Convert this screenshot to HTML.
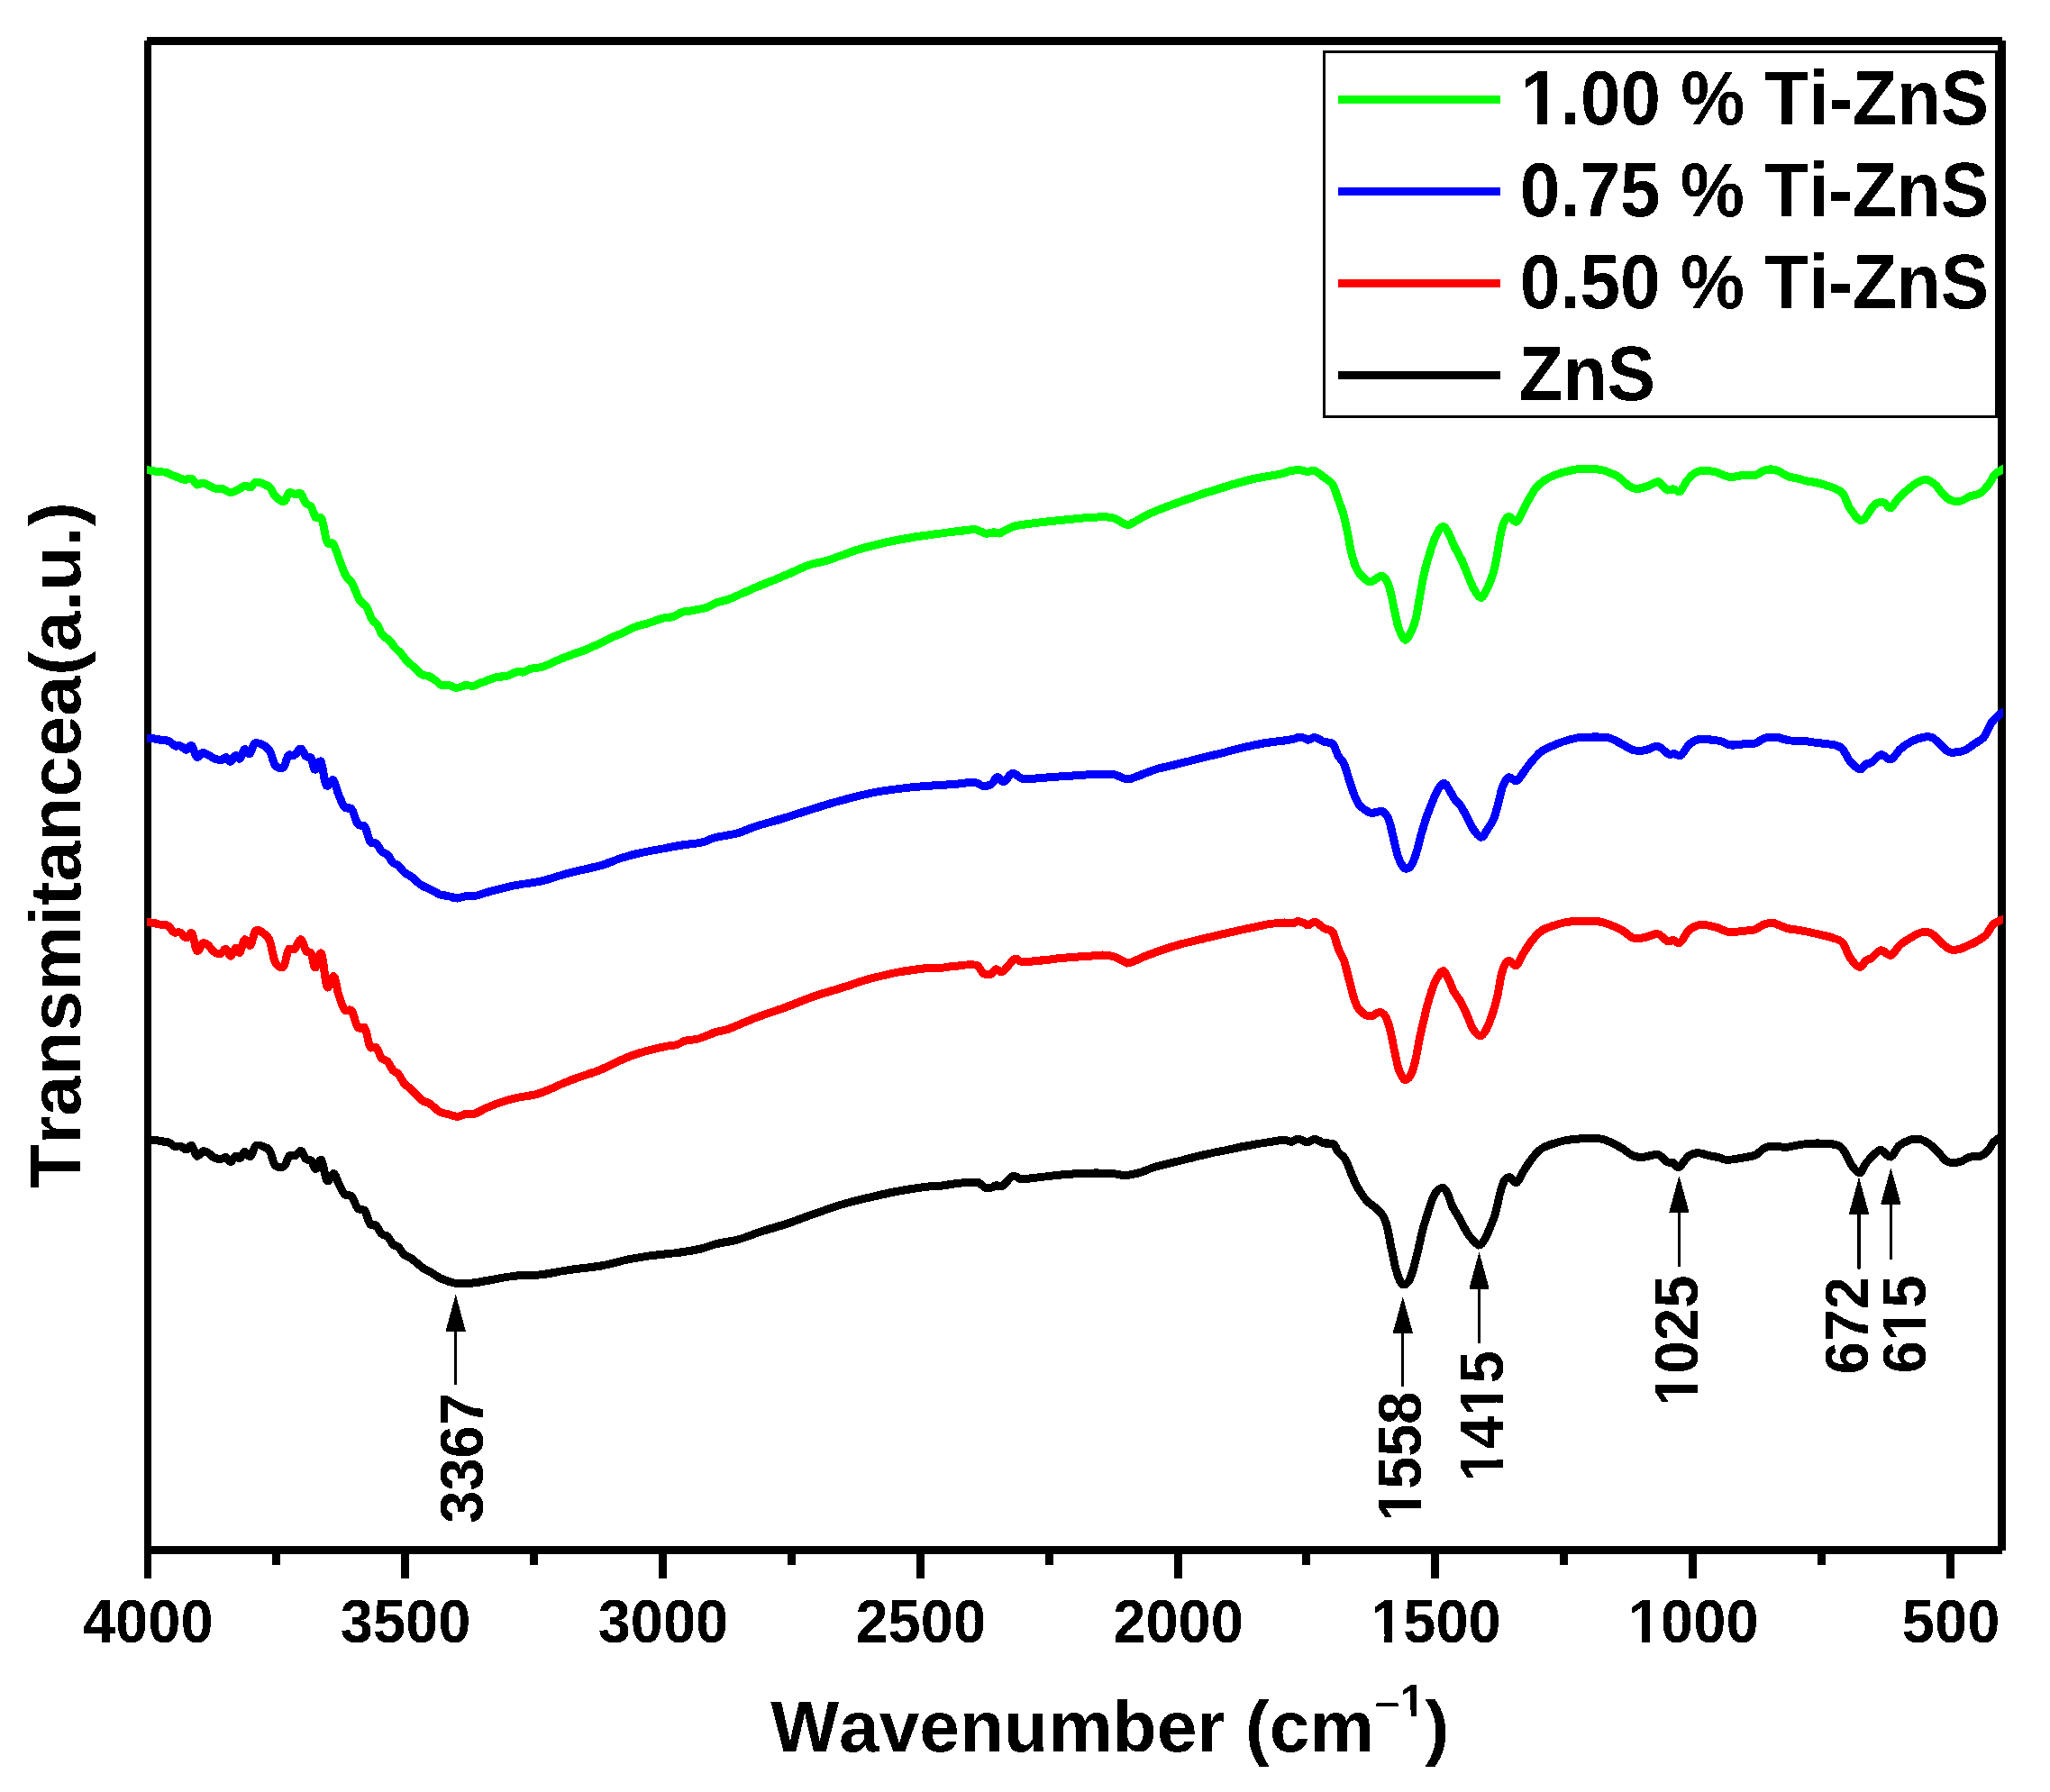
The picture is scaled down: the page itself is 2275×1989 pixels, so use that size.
<!DOCTYPE html>
<html><head><meta charset="utf-8"><title>FTIR spectra</title>
<style>
html,body{margin:0;padding:0;background:#fff;}
body{width:2275px;height:1989px;overflow:hidden;}
svg{display:block;}
text{font-family:"Liberation Sans",Arial,Helvetica,sans-serif;fill:#000;font-kerning:none;}
</style></head><body>
<svg width="2275" height="1989" viewBox="0 0 2275 1989">
<defs><filter id="hard" filterUnits="userSpaceOnUse" x="0" y="0" width="2275" height="1989" color-interpolation-filters="sRGB"><feComponentTransfer><feFuncR type="discrete" tableValues="0 1"/><feFuncG type="discrete" tableValues="0 1"/><feFuncB type="discrete" tableValues="0 1"/></feComponentTransfer></filter></defs>
<g filter="url(#hard)">
<rect width="2275" height="1989" fill="#fff"/>
<g fill="#000">
<rect x="160" y="45" width="8" height="1707"/>
<rect x="163" y="41" width="2059" height="8.8"/>
<rect x="2217" y="45" width="9" height="1675.8"/>
<rect x="160" y="1716" width="2062" height="9"/>
<rect x="445" y="1720" width="9" height="32"/>
<rect x="731" y="1720" width="9" height="32"/>
<rect x="1017" y="1720" width="9" height="32"/>
<rect x="1303" y="1720" width="9" height="32"/>
<rect x="1588" y="1720" width="9" height="32"/>
<rect x="1874" y="1720" width="9" height="32"/>
<rect x="2160" y="1720" width="9" height="32"/>
<rect x="302" y="1720" width="9" height="17"/>
<rect x="588" y="1720" width="9" height="17"/>
<rect x="874" y="1720" width="9" height="17"/>
<rect x="1160" y="1720" width="9" height="17"/>
<rect x="1445" y="1720" width="9" height="17"/>
<rect x="1731" y="1720" width="9" height="17"/>
<rect x="2017" y="1720" width="9" height="17"/>
</g>
<clipPath id="plotclip"><rect x="163" y="50" width="2059.6" height="1666"/></clipPath>
<g fill="none" stroke-width="9" stroke-linejoin="round" stroke-linecap="butt" clip-path="url(#plotclip)">
<path stroke="#000000" d="M156.0 1264.4C157.2 1264.5 160.3 1264.6 162.9 1264.7C165.5 1264.9 168.9 1265.2 171.7 1265.5C174.5 1265.8 176.9 1266.3 179.5 1266.7C182.1 1267.1 184.9 1267.1 187.3 1268.0C189.8 1269.0 192.0 1271.9 194.1 1272.5C196.3 1273.2 197.9 1271.4 200.0 1272.0C202.1 1272.5 204.7 1276.0 206.8 1275.9C208.9 1275.8 210.7 1270.2 212.7 1271.4C214.6 1272.6 216.4 1282.0 218.5 1283.1C220.7 1284.1 223.3 1278.4 225.4 1277.8C227.5 1277.3 229.1 1278.6 231.2 1279.8C233.3 1281.0 235.6 1284.0 238.0 1285.0C240.5 1286.1 243.7 1286.3 245.9 1286.2C248.0 1286.1 249.0 1284.1 250.7 1284.6C252.4 1285.2 254.2 1289.8 256.0 1289.5C257.8 1289.3 259.7 1283.7 261.5 1283.1C263.2 1282.4 264.7 1286.4 266.3 1285.6C268.0 1284.8 269.7 1278.7 271.6 1278.4C273.6 1278.1 276.0 1284.8 278.0 1283.7C280.1 1282.5 281.3 1273.1 283.9 1271.4C286.5 1269.6 291.1 1272.2 293.7 1273.3C296.3 1274.4 297.6 1274.5 299.5 1277.8C301.5 1281.2 302.8 1290.7 305.4 1293.4C308.0 1296.2 312.5 1296.1 315.1 1294.4C317.7 1292.7 318.9 1285.0 321.0 1283.1C323.1 1281.1 325.6 1283.7 327.8 1282.7C330.0 1281.7 332.1 1276.6 334.0 1277.2C336.0 1277.9 337.6 1284.8 339.5 1286.6C341.4 1288.4 343.6 1286.4 345.4 1288.1C347.2 1289.9 348.4 1297.4 350.2 1297.3C352.1 1297.2 354.6 1285.4 356.7 1287.6C358.8 1289.7 360.7 1307.9 362.9 1310.4C365.2 1312.9 368.2 1302.2 370.3 1302.6C372.5 1303.0 373.6 1309.1 375.6 1312.9C377.6 1316.8 380.0 1323.1 382.4 1325.6C384.9 1328.1 387.8 1325.3 390.2 1328.0C392.7 1330.6 394.6 1338.5 397.1 1341.2C399.5 1343.9 402.6 1341.2 404.9 1344.1C407.2 1347.1 408.6 1356.1 410.7 1358.8C412.8 1361.5 415.4 1358.6 417.6 1360.3C419.7 1362.1 421.3 1367.5 423.4 1369.5C425.5 1371.5 428.1 1370.5 430.2 1372.4C432.4 1374.4 434.1 1379.3 436.1 1381.2C438.0 1383.2 439.8 1382.2 442.0 1384.1C444.1 1386.1 446.3 1390.8 448.8 1392.9C451.2 1395.0 453.3 1394.6 456.6 1396.8C459.8 1399.1 464.9 1404.1 468.3 1406.6C471.7 1409.0 473.8 1409.5 477.1 1411.5C480.3 1413.4 484.4 1416.5 487.8 1418.3C491.2 1420.1 494.0 1421.1 497.6 1422.2C501.1 1423.3 504.4 1424.5 509.3 1424.7C514.1 1425.0 521.7 1424.3 526.8 1423.8C532.0 1423.2 532.7 1422.7 540.0 1421.5C547.3 1420.3 560.3 1417.6 570.4 1416.4C580.6 1415.3 590.7 1415.8 600.9 1414.7C611.0 1413.5 620.3 1411.2 631.3 1409.6C642.3 1408.0 655.8 1407.0 666.8 1405.0C677.8 1403.1 688.0 1399.8 697.3 1397.9C706.6 1396.0 713.8 1394.8 722.6 1393.6C731.5 1392.4 741.7 1391.7 750.5 1390.6C759.4 1389.4 768.3 1388.2 775.9 1386.5C783.5 1384.8 789.0 1382.2 796.2 1380.4C803.4 1378.6 811.0 1378.1 819.0 1375.9C827.1 1373.6 835.9 1369.7 844.4 1367.0C852.8 1364.2 859.6 1362.7 869.8 1359.4C879.9 1356.0 894.3 1350.5 905.3 1346.7C916.3 1342.9 924.7 1339.7 935.7 1336.5C946.7 1333.4 960.2 1330.2 971.2 1327.7C982.2 1325.1 991.5 1323.1 1001.7 1321.3C1011.8 1319.5 1025.7 1317.5 1032.1 1316.8C1038.5 1316.0 1035.3 1317.3 1040.0 1316.8C1044.7 1316.3 1053.1 1314.5 1060.5 1313.7C1067.8 1313.0 1078.6 1311.5 1084.0 1312.3C1089.5 1313.1 1090.7 1317.4 1093.3 1318.4C1095.8 1319.4 1097.4 1318.9 1099.4 1318.4C1101.5 1318.0 1103.3 1316.1 1105.6 1315.8C1107.8 1315.4 1110.0 1317.9 1112.7 1316.4C1115.5 1314.8 1119.4 1308.2 1122.0 1306.5C1124.5 1304.8 1126.0 1305.8 1128.1 1306.1C1130.1 1306.5 1129.8 1308.5 1134.2 1308.6C1138.7 1308.7 1146.5 1307.4 1154.7 1306.5C1162.9 1305.7 1173.5 1304.2 1183.4 1303.5C1193.3 1302.7 1205.6 1302.2 1214.1 1302.0C1222.7 1301.9 1228.8 1302.0 1234.6 1302.4C1240.4 1302.8 1243.9 1304.7 1249.0 1304.5C1254.1 1304.3 1259.9 1303.0 1265.4 1301.4C1270.8 1299.9 1274.9 1297.3 1281.8 1295.3C1288.6 1293.2 1297.5 1291.3 1306.3 1289.1C1315.2 1286.9 1326.1 1284.0 1335.0 1282.0C1343.9 1279.9 1351.4 1278.5 1359.6 1276.8C1367.8 1275.1 1376.0 1273.2 1384.2 1271.7C1392.4 1270.2 1402.0 1268.6 1408.8 1267.6C1415.6 1266.6 1421.1 1265.6 1425.2 1265.6C1429.3 1265.5 1430.9 1267.5 1433.4 1267.2C1435.8 1266.9 1437.9 1264.1 1440.0 1263.9C1442.1 1263.7 1444.1 1265.2 1445.9 1265.9C1447.6 1266.5 1448.5 1268.0 1450.7 1267.8C1453.0 1267.6 1456.4 1264.3 1459.5 1264.5C1462.6 1264.7 1465.9 1267.9 1469.3 1268.8C1472.7 1269.7 1477.4 1268.1 1480.0 1269.8C1482.6 1271.4 1482.8 1275.8 1484.9 1278.5C1487.0 1281.3 1490.4 1282.8 1492.7 1286.3C1495.0 1289.9 1496.6 1295.4 1498.5 1300.0C1500.5 1304.6 1502.3 1309.4 1504.4 1313.7C1506.5 1317.9 1508.9 1322.0 1511.2 1325.4C1513.5 1328.8 1515.6 1331.7 1518.0 1334.1C1520.5 1336.6 1523.3 1337.7 1525.9 1340.0C1528.5 1342.3 1531.5 1344.7 1533.7 1347.8C1535.8 1350.9 1536.9 1352.8 1538.5 1358.5C1540.2 1364.2 1541.8 1374.1 1543.4 1382.0C1545.0 1389.8 1546.7 1398.9 1548.3 1405.4C1549.9 1411.9 1551.5 1417.6 1553.2 1421.0C1554.8 1424.4 1556.3 1425.9 1558.0 1425.9C1559.8 1425.9 1562.1 1424.1 1563.9 1421.0C1565.7 1417.9 1567.2 1412.8 1568.8 1407.3C1570.4 1401.8 1572.0 1394.6 1573.7 1387.8C1575.3 1381.0 1576.7 1373.2 1578.5 1366.3C1580.3 1359.5 1582.4 1353.0 1584.4 1346.8C1586.3 1340.7 1588.3 1333.7 1590.2 1329.3C1592.2 1324.9 1594.1 1322.3 1596.1 1320.5C1598.0 1318.7 1600.2 1317.7 1602.0 1318.5C1603.7 1319.3 1605.2 1322.0 1606.8 1325.4C1608.5 1328.8 1609.9 1335.1 1611.7 1339.0C1613.5 1342.9 1615.6 1345.4 1617.6 1348.8C1619.5 1352.2 1621.3 1355.8 1623.4 1359.5C1625.5 1363.3 1627.3 1367.5 1630.2 1371.2C1633.2 1375.0 1638.0 1381.3 1641.0 1382.0C1643.9 1382.6 1645.7 1378.4 1647.8 1375.1C1649.9 1371.9 1651.7 1367.2 1653.7 1362.4C1655.6 1357.7 1657.7 1353.0 1659.5 1346.8C1661.3 1340.7 1662.8 1331.4 1664.4 1325.4C1666.0 1319.3 1667.5 1313.8 1669.3 1310.7C1671.1 1307.6 1672.8 1306.5 1675.1 1306.8C1677.4 1307.2 1680.3 1313.8 1682.9 1312.7C1685.5 1311.5 1687.8 1304.6 1690.7 1300.0C1693.7 1295.4 1697.1 1289.6 1700.5 1285.4C1703.9 1281.1 1707.5 1277.2 1711.2 1274.6C1715.0 1272.0 1718.7 1271.2 1722.9 1269.8C1727.2 1268.3 1731.7 1266.8 1736.6 1265.9C1741.5 1264.9 1745.7 1264.2 1752.2 1263.9C1758.7 1263.6 1769.4 1263.1 1775.6 1263.9C1781.8 1264.7 1785.2 1267.0 1789.3 1268.8C1793.3 1270.5 1796.1 1272.1 1800.0 1274.4C1803.9 1276.8 1808.6 1281.4 1812.9 1283.0C1817.2 1284.6 1821.3 1284.4 1825.8 1284.1C1830.2 1283.8 1835.6 1280.3 1839.7 1281.3C1843.8 1282.3 1847.6 1288.4 1850.4 1289.9C1853.3 1291.4 1854.7 1289.6 1856.9 1290.5C1859.0 1291.5 1860.5 1296.7 1863.3 1295.5C1866.2 1294.2 1870.5 1285.6 1874.0 1283.0C1877.6 1280.4 1881.0 1279.9 1884.8 1279.8C1888.5 1279.7 1892.8 1281.8 1896.6 1282.6C1900.3 1283.4 1904.1 1284.0 1907.3 1284.7C1910.5 1285.5 1911.6 1287.2 1915.9 1287.3C1920.2 1287.4 1927.7 1286.1 1933.1 1285.2C1938.4 1284.3 1944.0 1283.7 1948.1 1282.0C1952.2 1280.2 1954.5 1276.1 1957.8 1274.4C1961.0 1272.8 1963.3 1272.0 1967.4 1271.9C1971.5 1271.7 1977.4 1273.6 1982.4 1273.4C1987.4 1273.2 1992.1 1271.3 1997.5 1270.6C2002.8 1269.9 2008.9 1269.2 2014.6 1269.1C2020.4 1268.9 2027.3 1269.2 2031.8 1269.7C2036.3 1270.3 2038.8 1270.6 2041.5 1272.3C2044.1 1274.0 2045.8 1276.4 2047.9 1279.8C2050.0 1283.2 2051.7 1289.0 2054.3 1292.7C2057.0 1296.4 2061.3 1302.1 2064.0 1301.9C2066.7 1301.7 2067.9 1294.9 2070.4 1291.6C2072.9 1288.3 2076.2 1284.5 2079.0 1282.0C2081.9 1279.4 2084.4 1276.2 2087.6 1276.6C2090.8 1276.9 2095.1 1284.8 2098.3 1284.1C2101.6 1283.4 2103.7 1275.3 2106.9 1272.3C2110.1 1269.3 2114.1 1267.2 2117.7 1265.9C2121.2 1264.5 2124.8 1263.7 2128.4 1264.1C2132.0 1264.6 2135.5 1266.2 2139.1 1268.4C2142.7 1270.7 2146.6 1274.5 2149.9 1277.7C2153.1 1280.8 2155.6 1285.2 2158.4 1287.3C2161.3 1289.5 2163.8 1290.4 2167.0 1290.5C2170.2 1290.7 2174.5 1289.5 2177.8 1288.4C2181.0 1287.3 2183.1 1284.9 2186.3 1284.1C2189.6 1283.3 2193.9 1284.5 2197.1 1283.5C2200.3 1282.4 2203.2 1280.2 2205.7 1277.7C2208.2 1275.1 2210.1 1270.3 2212.1 1268.0C2214.1 1265.7 2214.8 1265.3 2217.5 1263.7C2220.1 1262.1 2226.2 1259.5 2228.0 1258.6"/>
<path stroke="#ff0000" d="M156.0 1023.1C157.2 1023.2 160.3 1023.3 162.9 1023.6C165.5 1023.8 168.9 1024.2 171.7 1024.7C174.5 1025.3 177.1 1026.2 179.5 1026.7C182.0 1027.1 184.1 1026.1 186.3 1027.5C188.6 1028.8 190.9 1033.6 193.2 1034.9C195.4 1036.1 197.7 1033.8 200.0 1034.9C202.3 1035.9 204.7 1041.0 206.8 1041.1C209.0 1041.3 211.1 1033.5 213.1 1035.9C215.0 1038.2 216.5 1053.6 218.5 1055.4C220.6 1057.2 223.3 1047.6 225.4 1046.6C227.5 1045.6 229.1 1047.8 231.2 1049.5C233.3 1051.2 235.8 1055.3 238.0 1056.7C240.3 1058.2 242.8 1058.8 244.9 1058.3C247.0 1057.7 248.9 1052.9 250.7 1053.4C252.6 1053.9 254.2 1061.4 256.0 1061.2C257.8 1061.1 259.7 1053.1 261.5 1052.4C263.2 1051.8 264.7 1058.9 266.3 1057.3C268.0 1055.8 269.3 1044.5 271.2 1043.1C273.2 1041.7 275.9 1050.6 278.0 1048.9C280.2 1047.2 281.3 1034.9 283.9 1032.9C286.5 1030.9 291.1 1034.9 293.7 1036.8C296.3 1038.8 297.6 1039.4 299.5 1044.6C301.5 1049.8 302.9 1063.3 305.4 1068.0C307.9 1072.8 312.1 1075.2 314.5 1072.9C317.0 1070.7 318.0 1057.6 320.0 1054.4C322.0 1051.1 324.5 1055.4 326.8 1053.4C329.2 1051.5 331.9 1042.4 334.0 1042.7C336.2 1043.0 337.6 1052.8 339.5 1055.4C341.4 1058.0 343.7 1055.2 345.4 1058.3C347.1 1061.4 347.8 1073.9 349.7 1073.9C351.5 1073.9 354.5 1054.7 356.7 1058.3C358.9 1061.9 360.7 1091.1 362.9 1095.4C365.2 1099.6 368.2 1082.4 370.3 1083.7C372.5 1085.0 373.6 1097.0 375.6 1103.2C377.6 1109.3 380.0 1117.6 382.4 1120.7C384.9 1123.8 387.8 1118.5 390.2 1121.7C392.7 1125.0 394.6 1137.0 397.1 1140.2C399.5 1143.5 402.6 1137.6 404.9 1141.2C407.2 1144.8 408.6 1158.1 410.7 1161.7C412.8 1165.3 415.4 1160.6 417.6 1162.7C419.7 1164.8 421.3 1171.8 423.4 1174.4C425.5 1177.0 428.1 1176.0 430.2 1178.3C432.4 1180.6 434.1 1185.8 436.1 1188.0C438.0 1190.3 439.8 1189.5 442.0 1192.0C444.1 1194.4 446.3 1199.8 448.8 1202.7C451.2 1205.6 453.3 1206.4 456.6 1209.5C459.8 1212.6 464.9 1218.6 468.3 1221.2C471.7 1223.8 473.8 1223.0 477.1 1225.1C480.3 1227.2 484.4 1232.0 487.8 1233.9C491.2 1235.9 494.1 1235.9 497.6 1236.8C501.0 1237.7 505.0 1239.5 508.3 1239.4C511.5 1239.3 514.0 1236.8 517.1 1236.2C520.2 1235.7 523.0 1237.4 526.8 1236.2C530.7 1235.1 535.3 1231.6 540.0 1229.6C544.7 1227.5 549.7 1225.5 555.2 1223.7C560.7 1221.9 565.8 1220.3 573.0 1218.7C580.2 1217.0 588.6 1216.7 598.3 1213.6C608.1 1210.5 619.9 1204.3 631.3 1199.9C642.7 1195.5 657.5 1190.9 666.8 1187.2C676.1 1183.5 680.4 1180.5 687.1 1177.6C693.9 1174.6 699.0 1172.1 707.4 1169.4C715.9 1166.8 730.7 1163.2 737.9 1161.6C745.0 1160.0 746.7 1160.9 750.5 1159.8C754.3 1158.7 756.5 1156.4 760.7 1155.2C764.9 1154.1 770.4 1154.3 775.9 1152.7C781.4 1151.1 788.2 1147.6 793.7 1145.9C799.2 1144.1 801.3 1144.8 808.9 1142.0C816.5 1139.3 829.2 1133.3 839.3 1129.4C849.5 1125.5 858.8 1122.7 869.8 1118.7C880.7 1114.7 894.3 1109.1 905.3 1105.3C916.3 1101.5 925.6 1099.1 935.7 1095.9C945.9 1092.7 956.0 1089.0 966.1 1086.2C976.3 1083.5 986.4 1081.0 996.6 1079.1C1006.7 1077.2 1019.8 1075.6 1027.0 1074.8C1034.3 1074.1 1034.4 1075.2 1040.0 1074.7C1045.6 1074.3 1053.3 1072.9 1060.5 1072.3C1067.7 1071.7 1077.9 1069.7 1083.0 1071.0C1088.1 1072.4 1088.5 1078.8 1091.2 1080.5C1094.0 1082.2 1097.0 1082.1 1099.4 1081.3C1101.8 1080.5 1103.3 1076.2 1105.6 1075.8C1107.8 1075.3 1109.3 1080.3 1112.7 1078.4C1116.1 1076.5 1122.5 1066.3 1126.0 1064.5C1129.6 1062.7 1129.5 1067.3 1134.2 1067.6C1139.0 1067.8 1146.5 1066.9 1154.7 1066.1C1162.9 1065.4 1173.5 1063.9 1183.4 1063.1C1193.3 1062.2 1207.3 1061.3 1214.1 1060.8C1221.0 1060.3 1220.6 1059.8 1224.4 1060.0C1228.1 1060.2 1232.6 1060.7 1236.7 1062.0C1240.8 1063.4 1245.9 1067.2 1249.0 1068.2C1252.0 1069.2 1250.7 1069.6 1255.1 1068.2C1259.6 1066.7 1267.1 1062.5 1275.6 1059.4C1284.1 1056.2 1296.4 1052.0 1306.3 1049.1C1316.2 1046.2 1326.1 1044.1 1335.0 1042.0C1343.9 1039.8 1351.4 1038.1 1359.6 1036.2C1367.8 1034.3 1376.0 1032.5 1384.2 1030.7C1392.4 1028.9 1402.0 1026.7 1408.8 1025.6C1415.6 1024.4 1420.7 1024.1 1425.2 1023.9C1429.6 1023.8 1432.9 1024.8 1435.4 1024.5C1437.9 1024.3 1438.1 1022.5 1440.0 1022.5C1441.9 1022.5 1444.9 1023.8 1446.8 1024.5C1448.8 1025.2 1449.6 1027.0 1451.7 1026.8C1453.8 1026.6 1456.6 1022.7 1459.5 1023.3C1462.4 1023.9 1466.0 1028.5 1469.3 1030.3C1472.5 1032.2 1476.4 1031.0 1479.0 1034.6C1481.6 1038.3 1482.8 1046.8 1484.9 1052.2C1487.0 1057.6 1489.6 1060.7 1491.7 1066.8C1493.8 1073.0 1495.6 1082.0 1497.6 1089.3C1499.5 1096.6 1501.6 1105.5 1503.4 1110.7C1505.2 1115.9 1506.3 1117.9 1508.3 1120.5C1510.2 1123.1 1512.8 1125.1 1515.1 1126.3C1517.4 1127.6 1519.3 1128.4 1522.0 1127.9C1524.6 1127.4 1528.1 1123.3 1530.7 1123.4C1533.3 1123.5 1535.6 1125.2 1537.6 1128.3C1539.5 1131.4 1540.8 1135.8 1542.4 1142.0C1544.1 1148.1 1545.7 1157.9 1547.3 1165.4C1548.9 1172.8 1550.6 1181.6 1552.2 1186.8C1553.8 1192.0 1555.8 1194.6 1557.1 1196.6C1558.4 1198.5 1558.5 1199.2 1560.0 1198.5C1561.5 1197.9 1564.1 1196.3 1565.9 1192.7C1567.6 1189.1 1569.1 1183.9 1570.7 1177.1C1572.4 1170.2 1574.0 1159.5 1575.6 1151.7C1577.2 1143.9 1578.9 1137.1 1580.5 1130.2C1582.1 1123.4 1583.6 1116.9 1585.4 1110.7C1587.2 1104.6 1589.4 1097.7 1591.2 1093.2C1593.0 1088.6 1594.3 1086.0 1596.1 1083.4C1597.9 1080.8 1600.0 1076.9 1602.0 1077.6C1603.9 1078.2 1605.9 1083.4 1607.8 1087.3C1609.8 1091.2 1611.4 1096.7 1613.7 1101.0C1615.9 1105.2 1619.0 1108.3 1621.5 1112.7C1623.9 1117.1 1626.0 1122.3 1628.3 1127.3C1630.6 1132.4 1632.7 1139.2 1635.1 1142.9C1637.6 1146.7 1640.5 1149.9 1642.9 1149.8C1645.4 1149.6 1647.5 1146.2 1649.8 1142.0C1652.0 1137.7 1654.6 1130.2 1656.6 1124.4C1658.5 1118.5 1659.8 1114.0 1661.5 1106.8C1663.1 1099.7 1664.7 1087.8 1666.3 1081.5C1668.0 1075.1 1669.6 1071.2 1671.2 1068.8C1672.8 1066.3 1674.1 1066.3 1676.1 1066.8C1678.0 1067.3 1680.5 1073.2 1682.9 1071.7C1685.4 1070.2 1687.8 1062.8 1690.7 1058.0C1693.7 1053.3 1697.1 1047.6 1700.5 1043.4C1703.9 1039.2 1707.5 1035.3 1711.2 1032.7C1715.0 1030.1 1718.7 1029.3 1722.9 1027.8C1727.2 1026.3 1731.7 1024.8 1736.6 1023.9C1741.5 1023.0 1746.3 1022.8 1752.2 1022.5C1758.0 1022.3 1766.2 1022.0 1771.7 1022.5C1777.2 1023.1 1780.7 1024.2 1785.4 1025.9C1790.1 1027.5 1795.4 1029.7 1800.0 1032.3C1804.6 1034.9 1808.6 1039.9 1812.9 1041.3C1817.2 1042.7 1821.3 1041.2 1825.8 1040.4C1830.2 1039.7 1835.6 1035.9 1839.7 1036.6C1843.8 1037.3 1847.6 1043.6 1850.4 1044.7C1853.3 1045.9 1854.6 1043.2 1856.9 1043.5C1859.2 1043.7 1861.5 1048.0 1864.4 1046.2C1867.3 1044.5 1870.7 1035.9 1874.0 1032.7C1877.4 1029.5 1881.4 1027.9 1884.8 1026.9C1888.2 1026.0 1890.7 1026.4 1894.4 1026.9C1898.2 1027.5 1903.2 1028.8 1907.3 1030.1C1911.4 1031.5 1914.8 1034.3 1919.1 1034.9C1923.4 1035.4 1928.4 1033.9 1933.1 1033.4C1937.7 1032.9 1942.9 1033.1 1947.0 1031.9C1951.1 1030.6 1954.2 1027.0 1957.8 1025.9C1961.3 1024.7 1964.4 1024.1 1968.5 1024.8C1972.6 1025.5 1977.6 1028.8 1982.4 1030.1C1987.3 1031.5 1992.1 1031.7 1997.5 1032.7C2002.8 1033.7 2008.9 1034.9 2014.6 1036.2C2020.4 1037.4 2026.8 1038.8 2031.8 1040.4C2036.8 1042.1 2041.1 1042.4 2044.7 1046.2C2048.3 1050.1 2050.0 1058.9 2053.3 1063.4C2056.5 1068.0 2061.1 1073.0 2064.0 1073.5C2066.9 1074.0 2068.3 1067.9 2070.4 1066.2C2072.6 1064.5 2074.0 1065.3 2076.9 1063.4C2079.7 1061.5 2084.0 1055.4 2087.6 1054.8C2091.2 1054.3 2094.8 1061.3 2098.3 1060.2C2101.9 1059.1 2105.1 1051.8 2109.1 1048.4C2113.0 1045.0 2118.0 1042.1 2122.0 1039.8C2125.9 1037.6 2129.1 1035.5 2132.7 1034.9C2136.3 1034.3 2139.8 1034.3 2143.4 1036.2C2147.0 1038.1 2150.7 1043.4 2154.1 1046.2C2157.5 1049.1 2160.6 1052.1 2163.8 1053.3C2167.0 1054.6 2170.2 1054.3 2173.5 1053.8C2176.7 1053.2 2179.9 1051.3 2183.1 1049.9C2186.3 1048.5 2189.4 1047.1 2192.8 1045.2C2196.2 1043.2 2200.3 1041.5 2203.5 1038.3C2206.7 1035.1 2209.1 1028.7 2212.1 1025.9C2215.1 1023.0 2219.1 1022.2 2221.8 1021.1C2224.4 1020.0 2227.0 1019.6 2228.0 1019.3"/>
<path stroke="#0000ff" d="M156.0 819.2C157.2 819.2 160.3 819.3 162.9 819.4C165.5 819.6 168.9 819.6 171.7 820.0C174.5 820.4 176.9 821.1 179.5 821.6C182.1 822.0 184.9 821.5 187.3 822.5C189.8 823.6 192.0 826.9 194.1 827.8C196.3 828.7 197.9 827.1 200.0 827.8C202.1 828.6 204.7 832.3 206.8 832.3C208.9 832.3 210.7 826.4 212.7 827.8C214.6 829.2 216.6 839.2 218.5 840.5C220.5 841.8 222.4 836.1 224.4 835.6C226.3 835.1 228.0 836.5 230.2 837.6C232.5 838.6 235.4 841.1 238.0 842.0C240.7 843.0 243.7 843.7 245.9 843.4C248.0 843.2 249.1 840.2 250.7 840.5C252.4 840.8 253.8 845.7 255.6 845.4C257.4 845.0 259.7 839.1 261.5 838.5C263.3 838.0 264.7 843.2 266.3 842.0C268.0 840.9 269.4 832.6 271.2 831.7C273.0 830.8 275.1 837.7 277.1 836.6C279.0 835.4 280.3 826.4 282.9 824.9C285.5 823.3 289.9 825.8 292.7 827.2C295.4 828.7 297.4 830.0 299.5 833.7C301.6 837.3 302.9 846.2 305.4 849.3C307.8 852.4 311.7 854.0 314.1 852.2C316.6 850.4 317.9 840.9 320.0 838.5C322.1 836.2 324.6 839.4 326.8 838.1C329.1 836.9 331.5 830.9 333.7 831.1C335.8 831.3 337.6 837.8 339.5 839.5C341.5 841.2 343.7 839.0 345.4 841.5C347.0 843.9 347.5 853.5 349.3 854.1C351.1 854.8 354.0 842.4 356.1 845.4C358.2 848.3 359.7 868.3 362.0 871.7C364.2 875.1 367.5 864.2 369.8 865.9C372.0 867.5 373.5 876.4 375.6 881.5C377.7 886.5 380.0 893.3 382.4 896.1C384.9 898.9 387.8 895.0 390.2 898.0C392.7 901.1 394.6 911.4 397.1 914.6C399.5 917.9 402.6 914.3 404.9 917.6C407.2 920.8 408.6 931.1 410.7 934.1C412.8 937.2 415.4 934.3 417.6 936.1C419.7 937.9 421.3 942.8 423.4 944.9C425.5 947.0 428.1 946.7 430.2 948.8C432.4 950.9 434.1 955.6 436.1 957.6C438.0 959.5 439.8 958.7 442.0 960.5C444.1 962.3 446.3 966.2 448.8 968.3C451.2 970.4 453.3 970.7 456.6 973.2C459.8 975.6 464.9 980.7 468.3 982.9C471.7 985.2 473.8 985.2 477.1 986.8C480.3 988.5 484.4 991.4 487.8 992.7C491.2 994.0 494.3 993.9 497.6 994.6C500.8 995.3 504.1 997.0 507.3 997.0C510.6 997.0 513.8 995.0 517.1 994.6C520.3 994.2 523.6 995.1 526.8 994.6C530.1 994.1 534.4 992.4 536.6 991.7C538.8 991.0 534.4 992.0 540.0 990.5C545.6 989.1 560.3 985.0 570.4 982.9C580.6 980.8 590.7 980.2 600.9 977.9C611.0 975.5 620.3 971.9 631.3 969.0C642.3 966.1 657.5 963.2 666.8 960.6C676.1 958.0 680.4 955.4 687.1 953.2C693.9 951.1 699.0 949.4 707.4 947.4C715.9 945.5 729.4 943.2 737.9 941.6C746.3 940.0 751.4 938.8 758.1 937.8C764.9 936.7 772.5 936.6 778.4 935.2C784.4 933.9 786.9 931.4 793.7 929.7C800.4 927.9 811.4 926.7 819.0 924.6C826.6 922.5 830.9 919.7 839.3 917.0C847.8 914.2 858.8 911.5 869.8 908.1C880.7 904.7 894.3 900.1 905.3 896.7C916.3 893.3 924.7 890.7 935.7 887.8C946.7 884.9 959.4 881.7 971.2 879.4C983.1 877.2 995.3 875.7 1006.7 874.4C1018.2 873.1 1031.0 872.3 1040.0 871.7C1049.0 871.0 1053.7 870.7 1060.5 870.2C1067.3 869.7 1075.9 868.2 1081.0 868.6C1086.1 868.9 1088.0 872.0 1091.2 872.3C1094.5 872.5 1097.9 871.9 1100.4 870.2C1103.0 868.6 1104.4 862.9 1106.6 862.4C1108.8 862.0 1110.9 868.2 1113.8 867.6C1116.7 866.9 1120.4 858.9 1124.0 858.3C1127.6 857.8 1130.1 863.6 1135.3 864.5C1140.4 865.3 1146.7 864.0 1154.7 863.5C1162.8 863.0 1173.5 862.1 1183.4 861.4C1193.3 860.7 1205.6 859.7 1214.1 859.4C1222.7 859.0 1228.8 858.5 1234.6 859.4C1240.4 860.2 1245.2 863.8 1249.0 864.5C1252.7 865.2 1251.7 865.2 1257.2 863.5C1262.6 861.8 1273.6 856.8 1281.8 854.2C1290.0 851.7 1297.5 850.3 1306.3 848.1C1315.2 845.9 1326.1 843.1 1335.0 840.9C1343.9 838.7 1351.4 836.8 1359.6 834.8C1367.8 832.7 1376.7 830.3 1384.2 828.6C1391.7 826.9 1398.5 825.6 1404.7 824.5C1410.8 823.5 1416.0 823.2 1421.1 822.5C1426.2 821.8 1432.3 821.1 1435.4 820.4C1438.6 819.8 1438.1 818.9 1440.0 818.6C1441.9 818.4 1444.9 818.6 1446.8 819.0C1448.8 819.5 1449.6 821.4 1451.7 821.4C1453.8 821.3 1456.6 818.3 1459.5 818.6C1462.4 819.0 1466.0 822.1 1469.3 823.3C1472.5 824.5 1476.4 823.3 1479.0 825.9C1481.6 828.4 1482.8 834.8 1484.9 838.5C1487.0 842.3 1489.6 843.6 1491.7 848.3C1493.8 853.0 1495.6 861.0 1497.6 866.8C1499.5 872.7 1501.6 879.0 1503.4 883.4C1505.2 887.8 1506.3 890.6 1508.3 893.2C1510.2 895.8 1512.8 897.5 1515.1 899.0C1517.4 900.6 1519.7 902.2 1522.0 902.5C1524.2 902.9 1526.5 901.2 1528.8 901.0C1531.1 900.8 1533.5 899.7 1535.6 901.4C1537.7 903.0 1539.7 905.9 1541.5 910.7C1543.3 915.5 1544.7 923.7 1546.3 930.2C1548.0 936.7 1549.6 944.7 1551.2 949.8C1552.8 954.8 1554.5 958.0 1556.1 960.5C1557.7 962.9 1559.2 964.6 1561.0 964.4C1562.8 964.2 1565.0 962.4 1566.8 959.5C1568.6 956.6 1570.1 952.0 1571.7 946.8C1573.3 941.6 1574.8 934.6 1576.6 928.3C1578.4 922.0 1580.5 914.6 1582.4 908.8C1584.4 902.9 1586.2 898.4 1588.3 893.2C1590.4 888.0 1592.8 881.5 1595.1 877.6C1597.4 873.6 1599.8 869.7 1602.0 869.4C1604.1 869.0 1605.9 872.8 1607.8 875.6C1609.8 878.4 1611.4 883.1 1613.7 886.3C1615.9 889.6 1619.0 891.5 1621.5 895.1C1623.9 898.7 1626.0 903.6 1628.3 907.8C1630.6 912.0 1632.5 916.9 1635.1 920.5C1637.7 924.1 1641.3 929.3 1643.9 929.3C1646.5 929.3 1648.5 923.9 1650.7 920.5C1653.0 917.1 1655.6 913.3 1657.6 908.8C1659.5 904.2 1660.8 899.0 1662.4 893.2C1664.1 887.3 1665.4 878.7 1667.3 873.7C1669.3 868.6 1671.5 864.1 1674.1 862.9C1676.7 861.8 1680.2 867.8 1682.9 866.8C1685.7 865.9 1687.8 860.8 1690.7 857.1C1693.7 853.3 1697.1 848.3 1700.5 844.4C1703.9 840.5 1707.5 836.4 1711.2 833.7C1715.0 830.9 1718.7 829.7 1722.9 827.8C1727.2 826.0 1731.7 824.1 1736.6 822.5C1741.5 821.0 1746.7 819.4 1752.2 818.6C1757.7 817.9 1764.2 818.0 1769.8 818.0C1775.3 818.1 1780.3 817.7 1785.4 819.0C1790.4 820.3 1795.4 823.6 1800.0 825.9C1804.6 828.1 1808.6 831.6 1812.9 832.7C1817.2 833.9 1821.3 833.4 1825.8 832.7C1830.2 832.0 1835.4 827.7 1839.7 828.4C1844.0 829.1 1848.5 835.7 1851.5 837.0C1854.6 838.4 1855.6 836.4 1858.0 836.6C1860.3 836.8 1862.6 840.1 1865.5 838.3C1868.3 836.5 1871.7 828.8 1875.1 825.9C1878.5 822.9 1881.9 821.3 1885.9 820.5C1889.8 819.7 1894.8 820.8 1898.7 821.1C1902.7 821.5 1905.9 821.7 1909.5 822.6C1913.0 823.6 1916.3 826.4 1920.2 826.9C1924.1 827.5 1928.4 826.2 1933.1 825.9C1937.7 825.5 1943.8 825.9 1948.1 824.8C1952.4 823.6 1954.9 820.1 1958.8 819.0C1962.8 817.9 1967.4 817.9 1971.7 818.3C1976.0 818.8 1979.6 820.8 1984.6 821.6C1989.6 822.3 1996.0 822.1 2001.8 822.6C2007.5 823.2 2013.2 824.1 2018.9 824.8C2024.7 825.5 2031.8 825.9 2036.1 826.9C2040.4 828.0 2041.8 828.2 2044.7 831.2C2047.5 834.3 2050.0 841.4 2053.3 845.2C2056.5 848.9 2061.1 853.2 2064.0 853.8C2066.9 854.3 2068.3 849.6 2070.4 848.4C2072.6 847.1 2074.0 848.0 2076.9 846.2C2079.7 844.5 2084.0 838.2 2087.6 837.7C2091.2 837.1 2094.8 844.1 2098.3 843.0C2101.9 842.0 2105.1 834.6 2109.1 831.2C2113.0 827.8 2117.7 824.8 2122.0 822.6C2126.2 820.5 2130.9 818.9 2134.8 818.3C2138.8 817.8 2141.3 816.9 2145.6 819.4C2149.9 821.9 2156.7 830.8 2160.6 833.4C2164.5 836.0 2165.8 835.3 2169.2 835.1C2172.6 834.9 2177.4 833.8 2181.0 832.3C2184.6 830.8 2187.2 828.2 2190.6 825.9C2194.0 823.5 2198.1 822.3 2201.4 818.3C2204.6 814.4 2207.1 806.4 2210.0 802.2C2212.8 798.1 2216.4 795.6 2218.5 793.7C2220.7 791.7 2221.3 791.4 2222.8 790.4C2224.4 789.5 2227.1 788.5 2228.0 788.1"/>
<path stroke="#00ff00" d="M156.0 520.8C157.2 521.0 160.3 521.1 162.9 521.5C165.5 521.8 168.3 522.6 171.7 523.0C175.1 523.5 179.8 523.3 183.4 524.2C187.0 525.1 189.6 527.0 193.2 528.3C196.7 529.6 201.6 531.7 204.9 532.2C208.1 532.7 210.4 530.2 212.7 531.2C215.0 532.2 216.4 537.2 218.5 538.0C220.7 538.9 222.1 535.4 225.4 536.1C228.6 536.7 234.3 540.8 238.0 542.0C241.8 543.1 244.9 542.1 247.8 542.9C250.7 543.7 253.0 546.7 255.6 546.8C258.2 547.0 260.7 545.2 263.4 543.9C266.2 542.6 269.8 539.5 272.2 539.0C274.6 538.5 276.1 541.6 278.0 541.0C280.0 540.3 281.1 535.6 283.9 535.1C286.7 534.6 291.9 536.9 294.6 538.0C297.4 539.2 298.7 539.8 300.5 542.0C302.3 544.1 302.9 548.3 305.4 550.7C307.8 553.2 312.5 557.2 315.1 556.6C317.7 555.9 318.9 548.1 321.0 546.8C323.1 545.5 325.7 548.6 327.8 548.8C329.9 548.9 331.7 546.2 333.7 547.8C335.6 549.4 337.6 556.1 339.5 558.5C341.5 561.0 343.6 559.8 345.4 562.4C347.2 565.0 348.3 571.9 350.2 574.1C352.2 576.4 355.0 571.5 357.1 576.1C359.2 580.7 360.8 596.9 362.9 601.5C365.0 606.0 367.5 600.2 369.8 603.4C372.0 606.7 374.3 615.1 376.6 621.0C378.9 626.8 381.1 634.3 383.4 638.5C385.7 642.8 387.6 641.8 390.2 646.3C392.8 650.9 396.3 661.3 399.0 665.9C401.8 670.4 404.6 670.1 406.8 673.7C409.1 677.2 410.7 684.1 412.7 687.3C414.6 690.6 416.6 690.2 418.5 693.2C420.5 696.1 422.1 702.0 424.4 704.9C426.7 707.8 429.9 708.5 432.2 710.7C434.5 713.0 435.8 715.9 438.0 718.5C440.3 721.1 443.6 723.7 445.9 726.3C448.1 728.9 449.8 732.0 451.7 734.1C453.7 736.3 454.8 736.6 457.6 739.0C460.3 741.5 465.2 746.8 468.3 748.8C471.4 750.7 473.5 749.6 476.1 750.7C478.7 751.9 481.6 754.0 483.9 755.6C486.2 757.2 487.5 759.7 489.8 760.5C492.0 761.3 494.6 760.0 497.6 760.5C500.5 761.0 504.1 763.4 507.3 763.4C510.6 763.4 514.1 760.8 517.1 760.5C520.0 760.2 522.0 762.0 524.9 761.5C527.8 761.0 532.1 758.5 534.6 757.6C537.2 756.6 537.2 756.7 540.0 755.6C542.8 754.6 548.1 752.1 551.7 751.3C555.3 750.5 557.9 751.6 561.5 750.7C565.0 749.8 569.9 746.7 573.2 745.9C576.4 745.0 578.4 746.4 581.0 745.9C583.6 745.3 585.2 743.3 588.8 742.3C592.4 741.4 597.6 741.5 602.4 740.0C607.3 738.5 612.2 735.6 618.0 733.2C623.9 730.7 632.4 727.3 637.6 725.4C642.8 723.4 644.4 723.4 649.3 721.5C654.1 719.5 661.6 716.1 666.8 713.7C672.0 711.2 676.3 708.8 680.5 706.8C684.7 704.9 688.3 703.7 692.2 702.0C696.1 700.2 700.0 697.6 703.9 696.1C707.8 694.6 712.0 693.9 715.6 692.8C719.2 691.7 722.1 690.7 725.4 689.7C728.6 688.6 731.5 687.2 735.1 686.3C738.7 685.5 743.3 685.5 746.8 684.4C750.4 683.3 753.3 680.6 756.6 679.5C759.8 678.4 763.1 678.5 766.3 678.0C769.6 677.4 772.8 676.9 776.1 676.2C779.3 675.5 782.6 674.9 785.9 673.7C789.1 672.4 791.7 670.2 795.6 668.8C799.5 667.3 804.7 666.5 809.3 664.9C813.8 663.3 817.7 661.3 822.9 659.0C828.1 656.7 834.3 653.8 840.5 651.2C846.7 648.6 853.5 646.1 860.0 643.4C866.5 640.7 873.0 637.8 879.5 635.0C886.0 632.3 892.3 629.1 899.0 626.8C905.8 624.6 911.4 624.2 920.0 621.5C928.6 618.8 940.3 613.8 950.4 610.6C960.6 607.5 970.7 604.8 980.9 602.5C991.0 600.2 1001.2 598.4 1011.3 596.7C1021.5 595.0 1032.5 593.6 1041.8 592.4C1051.1 591.1 1060.4 589.8 1067.1 589.1C1073.9 588.3 1077.9 587.3 1082.3 587.8C1086.8 588.3 1090.4 591.6 1093.8 592.1C1097.1 592.6 1099.9 590.9 1102.6 590.8C1105.4 590.8 1106.7 592.7 1110.2 591.6C1113.8 590.6 1119.1 586.2 1124.2 584.5C1129.3 582.8 1132.4 582.6 1140.7 581.5C1148.9 580.3 1162.2 578.8 1173.7 577.7C1185.1 576.5 1199.2 574.9 1209.2 574.4C1219.1 573.8 1226.5 573.1 1233.3 574.4C1240.0 575.7 1245.7 581.3 1249.8 582.2C1253.8 583.2 1252.7 582.4 1257.4 580.2C1262.0 578.0 1267.9 573.5 1277.7 569.3C1287.4 565.1 1303.4 559.2 1315.7 554.8C1328.0 550.4 1339.0 546.7 1351.2 542.9C1363.5 539.1 1377.8 534.7 1389.3 532.0C1400.7 529.3 1413.3 527.9 1420.0 526.4C1426.7 525.0 1426.2 524.2 1429.8 523.3C1433.3 522.5 1438.0 521.4 1441.5 521.4C1444.9 521.4 1447.3 523.1 1450.2 523.3C1453.2 523.5 1456.3 521.8 1459.0 522.5C1461.8 523.3 1464.2 526.0 1466.8 527.8C1469.4 529.7 1472.5 531.9 1474.6 533.7C1476.7 535.4 1477.9 535.4 1479.5 538.5C1481.1 541.6 1482.6 547.2 1484.4 552.2C1486.2 557.2 1488.5 562.6 1490.2 568.8C1492.0 575.0 1493.5 581.6 1495.1 589.3C1496.7 596.9 1498.2 607.5 1500.0 614.6C1501.8 621.8 1503.6 627.6 1505.9 632.2C1508.1 636.7 1511.2 639.7 1513.7 642.0C1516.1 644.2 1518.4 645.7 1520.5 645.9C1522.6 646.0 1524.4 644.0 1526.3 642.9C1528.3 641.9 1530.2 639.6 1532.2 639.6C1534.1 639.6 1536.3 640.3 1538.0 642.9C1539.8 645.6 1541.3 649.6 1542.9 655.6C1544.6 661.6 1546.2 671.9 1547.8 679.0C1549.4 686.2 1550.7 693.3 1552.7 698.5C1554.6 703.7 1557.2 709.9 1559.5 710.2C1561.8 710.6 1564.4 704.4 1566.3 700.5C1568.3 696.6 1569.6 693.7 1571.2 686.8C1572.8 680.0 1574.5 668.3 1576.1 659.5C1577.7 650.7 1579.3 641.3 1581.0 634.1C1582.6 627.0 1584.1 622.4 1585.9 616.6C1587.6 610.7 1589.8 603.9 1591.7 599.0C1593.7 594.1 1595.8 589.8 1597.6 587.3C1599.3 584.9 1600.8 583.7 1602.4 584.4C1604.1 585.0 1605.2 587.2 1607.3 591.2C1609.4 595.3 1612.7 603.7 1615.1 608.8C1617.6 613.8 1619.7 616.6 1622.0 621.5C1624.2 626.3 1626.5 632.7 1628.8 638.0C1631.1 643.4 1633.2 649.4 1635.6 653.7C1638.0 657.9 1641.0 663.4 1643.4 663.4C1645.9 663.4 1648.0 658.2 1650.2 653.7C1652.5 649.1 1655.3 642.0 1657.1 636.1C1658.9 630.2 1659.7 625.4 1661.0 618.5C1662.3 611.7 1663.6 601.5 1664.9 595.1C1666.2 588.8 1667.2 584.1 1668.8 580.5C1670.4 576.8 1672.4 573.4 1674.6 573.3C1676.9 573.1 1680.2 579.9 1682.4 579.5C1684.7 579.1 1686.2 574.5 1688.3 570.7C1690.4 567.0 1692.5 561.8 1695.1 557.1C1697.7 552.4 1700.7 546.5 1703.9 542.4C1707.2 538.4 1710.6 535.3 1714.6 532.7C1718.7 530.0 1723.4 528.2 1728.3 526.4C1733.2 524.7 1738.5 523.0 1743.9 522.0C1749.3 520.9 1754.6 520.0 1760.5 520.0C1766.3 520.0 1773.3 520.6 1779.0 522.0C1784.7 523.3 1791.1 526.6 1794.6 528.4C1798.1 530.2 1797.9 530.9 1800.0 532.6C1802.1 534.4 1804.8 537.4 1807.5 539.1C1810.2 540.8 1812.7 542.6 1816.1 542.7C1819.5 542.8 1824.0 541.0 1827.9 539.7C1831.8 538.4 1837.0 535.1 1839.7 534.8C1842.4 534.5 1842.2 536.5 1844.0 538.0C1845.8 539.5 1848.3 543.2 1850.4 544.0C1852.6 544.8 1854.6 542.5 1856.9 542.7C1859.2 543.0 1861.9 547.0 1864.4 545.5C1866.9 544.0 1869.2 537.1 1871.9 533.7C1874.6 530.3 1877.8 527.0 1880.5 525.1C1883.2 523.3 1884.2 522.8 1888.0 522.5C1891.8 522.3 1897.8 522.5 1903.0 523.6C1908.2 524.8 1914.1 528.7 1919.1 529.4C1924.1 530.1 1928.2 528.1 1933.1 527.7C1937.9 527.3 1944.2 528.1 1948.1 527.3C1952.0 526.4 1953.8 523.6 1956.7 522.5C1959.5 521.5 1962.4 520.8 1965.3 520.8C1968.1 520.9 1970.6 521.6 1973.9 523.0C1977.1 524.3 1981.0 527.6 1984.6 529.0C1988.2 530.3 1992.1 530.3 1995.3 531.1C1998.5 531.9 2000.7 533.0 2003.9 533.7C2007.1 534.4 2010.7 534.5 2014.6 535.4C2018.6 536.3 2023.6 537.8 2027.5 539.1C2031.4 540.3 2035.2 541.3 2038.2 542.9C2041.3 544.5 2043.3 545.1 2045.8 548.7C2048.3 552.4 2049.9 560.0 2053.3 564.8C2056.7 569.7 2061.9 578.2 2066.1 577.7C2070.4 577.2 2075.6 565.0 2079.0 561.6C2082.4 558.2 2084.4 557.9 2086.5 557.3C2088.7 556.8 2089.9 557.3 2091.9 558.4C2093.9 559.5 2095.8 564.7 2098.3 563.8C2100.8 562.9 2103.3 556.8 2106.9 553.0C2110.5 549.3 2115.9 544.4 2119.8 541.2C2123.7 538.1 2127.3 535.6 2130.5 534.1C2133.8 532.7 2136.1 531.8 2139.1 532.6C2142.2 533.5 2145.9 536.4 2148.8 539.1C2151.6 541.8 2153.6 546.0 2156.3 548.7C2159.0 551.4 2161.7 553.9 2164.9 555.2C2168.1 556.4 2172.0 557.0 2175.6 556.2C2179.2 555.5 2182.8 552.3 2186.3 550.9C2189.9 549.4 2193.7 549.8 2197.1 547.7C2200.5 545.5 2203.9 541.6 2206.7 538.0C2209.6 534.4 2211.6 529.1 2214.2 526.2C2216.9 523.3 2220.5 522.0 2222.8 520.8C2225.1 519.6 2227.1 519.2 2228.0 518.9"/>
</g>
<rect x="1469.5" y="57.5" width="746" height="405" fill="#fff" stroke="#000" stroke-width="3"/>
<path d="M1485 110.5H1665" stroke="#00ff00" stroke-width="9" fill="none"/>
<path d="M1485 212.5H1665" stroke="#0000ff" stroke-width="9" fill="none"/>
<path d="M1485 314.8H1665" stroke="#ff0000" stroke-width="9" fill="none"/>
<path d="M1485 416.7H1665" stroke="#000000" stroke-width="9" fill="none"/>
<path d="M505.7 1436.6L516.9 1477.7H494.5Z" fill="#000"/>
<path d="M505.7 1476.7V1537.5" stroke="#000" stroke-width="3.2" fill="none"/>
<path d="M1556.8 1439.2L1568.0 1479.7H1545.6Z" fill="#000"/>
<path d="M1556.8 1478.7V1539.5" stroke="#000" stroke-width="3.2" fill="none"/>
<path d="M1641.5 1389.6L1652.7 1430.5H1630.3Z" fill="#000"/>
<path d="M1641.5 1429.5V1490.8" stroke="#000" stroke-width="3.2" fill="none"/>
<path d="M1863.4 1304.7L1874.6 1345.7H1852.2Z" fill="#000"/>
<path d="M1863.4 1344.7V1405.7" stroke="#000" stroke-width="3.2" fill="none"/>
<path d="M2063.0 1306.6L2074.2 1347.7H2051.8Z" fill="#000"/>
<path d="M2063.0 1346.7V1408.8" stroke="#000" stroke-width="3.2" fill="none"/>
<path d="M2098.4 1295.9L2109.6 1336.5H2087.2Z" fill="#000"/>
<path d="M2098.4 1335.5V1397.9" stroke="#000" stroke-width="3.2" fill="none"/>
<g transform="translate(91.96 1823.00) scale(1.0000 1.0650)"><text font-weight="bold" font-size="65">4000</text></g>
<g transform="translate(377.80 1823.00) scale(1.0000 1.0650)"><text font-weight="bold" font-size="65">3500</text></g>
<g transform="translate(663.63 1823.00) scale(1.0000 1.0650)"><text font-weight="bold" font-size="65">3000</text></g>
<g transform="translate(949.46 1823.00) scale(1.0000 1.0650)"><text font-weight="bold" font-size="65">2500</text></g>
<g transform="translate(1235.30 1823.00) scale(1.0000 1.0650)"><text font-weight="bold" font-size="65">2000</text></g>
<g transform="translate(1521.13 1823.00) scale(1.0000 1.0650)"><text font-weight="bold" font-size="65">1500</text><rect x="2.59" y="-8.13" width="12.58" height="9.63" fill="#fff"/><rect x="24.09" y="-8.13" width="11.75" height="9.63" fill="#fff"/></g>
<g transform="translate(1806.96 1823.00) scale(1.0000 1.0650)"><text font-weight="bold" font-size="65">1000</text><rect x="2.59" y="-8.13" width="12.58" height="9.63" fill="#fff"/><rect x="24.09" y="-8.13" width="11.75" height="9.63" fill="#fff"/></g>
<g transform="translate(2110.87 1823.00) scale(1.0000 1.0650)"><text font-weight="bold" font-size="65">500</text></g>
<g transform="translate(89.20 1319.31) rotate(-90) scale(1.0087 1.0000)"><text font-weight="bold" font-size="80">Transmitancea(a.u.)</text></g>
<g transform="translate(855.20 1944.20) scale(1.0044 1)"><text font-weight="bold" font-size="80">Wavenumber (cm<tspan font-weight="normal" font-size="50" x="666.70" y="-35.58">−</tspan><tspan font-size="50" x="695.52" y="-39.60">1</tspan><tspan x="723.07" y="0">)</tspan></text><rect x="697.17" y="-46.20" width="10.02" height="8.10" fill="#fff"/><rect x="714.05" y="-46.20" width="9.39" height="8.10" fill="#fff"/></g>
<g transform="translate(1687.40 137.80) scale(0.9992 1.0550)"><text font-weight="bold" font-size="80">1.00 % Ti-ZnS</text><rect x="3.54" y="-9.66" width="15.13" height="11.16" fill="#fff"/><rect x="29.65" y="-9.66" width="14.12" height="11.16" fill="#fff"/></g>
<g transform="translate(1686.70 239.70) scale(1.0006 1.0550)"><text font-weight="bold" font-size="80">0.75 % Ti-ZnS</text></g>
<g transform="translate(1686.70 342.30) scale(1.0006 1.0550)"><text font-weight="bold" font-size="80">0.50 % Ti-ZnS</text></g>
<g transform="translate(1685.49 444.00) scale(1.0030 1.0550)"><text font-weight="bold" font-size="80">ZnS</text></g>
<g transform="translate(535.50 1690.80) rotate(-90) scale(1.0014 1.0450)"><text font-weight="bold" font-size="65">3367</text></g>
<g transform="translate(1577.30 1688.89) rotate(-90) scale(0.9978 1.0450)"><text font-weight="bold" font-size="65">1558</text><rect x="2.59" y="-8.13" width="12.58" height="9.63" fill="#fff"/><rect x="24.09" y="-8.13" width="11.75" height="9.63" fill="#fff"/></g>
<g transform="translate(1668.10 1644.73) rotate(-90) scale(1.0072 1.0450)"><text font-weight="bold" font-size="65">1415</text><rect x="2.59" y="-8.13" width="12.58" height="9.63" fill="#fff"/><rect x="24.09" y="-8.13" width="11.75" height="9.63" fill="#fff"/><rect x="74.89" y="-8.13" width="12.58" height="9.63" fill="#fff"/><rect x="96.39" y="-8.13" width="11.75" height="9.63" fill="#fff"/></g>
<g transform="translate(1883.90 1561.03) rotate(-90) scale(1.0072 1.0450)"><text font-weight="bold" font-size="65">1025</text><rect x="2.59" y="-8.13" width="12.58" height="9.63" fill="#fff"/><rect x="24.09" y="-8.13" width="11.75" height="9.63" fill="#fff"/></g>
<g transform="translate(2072.80 1525.40) rotate(-90) scale(0.9990 1.0450)"><text font-weight="bold" font-size="65">672</text></g>
<g transform="translate(2137.20 1524.51) rotate(-90) scale(1.0048 1.0450)"><text font-weight="bold" font-size="65">615</text><rect x="38.73" y="-8.13" width="12.58" height="9.63" fill="#fff"/><rect x="60.23" y="-8.13" width="11.75" height="9.63" fill="#fff"/></g>
</g>
</svg>
</body></html>
